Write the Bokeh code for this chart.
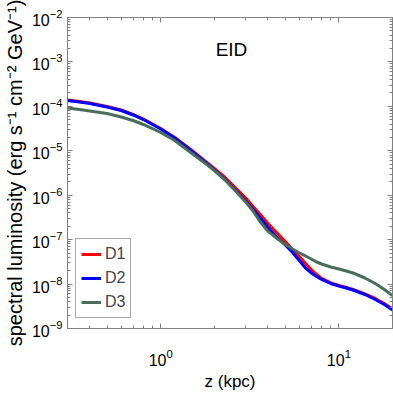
from bokeh.plotting import figure
from bokeh.models import (FixedTicker, LogTickFormatter, LogAxis, Label, Legend, LegendItem, Range1d)
from bokeh.embed import file_html
from bokeh.resources import INLINE

z_kpc = [0.3, 0.35, 0.4, 0.5, 0.6, 0.7, 0.8, 1.0, 1.2, 1.5, 1.8, 2.0, 2.3, 2.6, 3.0, 3.3, 3.6,
         4.0, 4.5, 5.0, 5.5, 6.0, 6.5, 7.0, 7.5, 8.0, 9.0, 10.0, 11.0, 12.0, 14.0, 16.0, 18.0, 20.0]
d1 = [1.39e-4, 1.29e-4, 1.19e-4, 9.93e-5, 8.28e-5, 6.56e-5, 5.19e-5, 3.18e-5, 1.99e-5, 1.02e-5,
      5.59e-6, 4.00e-6, 2.51e-6, 1.53e-6, 8.66e-7, 5.57e-7, 3.78e-7,
      2.31e-7, 1.41e-7, 9.09e-8, 6.00e-8, 4.18e-8, 2.91e-8, 2.13e-8, 1.64e-8, 1.34e-8, 1.06e-8,
      9.29e-9, 8.38e-9, 7.55e-9, 6.04e-9, 4.74e-9, 3.66e-9, 2.75e-9]
d2 = [1.36e-4, 1.25e-4, 1.16e-4, 9.67e-5, 8.07e-5, 6.39e-5, 5.06e-5, 3.09e-5, 1.94e-5, 9.64e-6,
      5.31e-6, 3.70e-6, 2.26e-6, 1.35e-6, 7.41e-7, 4.77e-7, 3.15e-7,
      1.88e-7, 1.12e-7, 7.58e-8, 5.14e-8, 3.39e-8, 2.30e-8, 1.78e-8, 1.48e-8, 1.27e-8, 1.03e-8,
      9.05e-9, 8.16e-9, 7.36e-9, 5.83e-9, 4.50e-9, 3.47e-9, 2.61e-9]
d3 = [9.19e-5, 8.50e-5, 7.86e-5, 6.91e-5, 5.76e-5, 4.81e-5, 3.91e-5, 2.58e-5, 1.70e-5, 8.69e-6,
      5.04e-6, 3.60e-6, 2.20e-6, 1.31e-6, 7.04e-7, 4.41e-7, 2.60e-7,
      1.55e-7, 1.06e-7, 7.78e-8, 6.16e-8, 5.01e-8, 4.29e-8, 3.67e-8, 3.14e-8, 2.83e-8, 2.42e-8,
      2.18e-8, 1.97e-8, 1.78e-8, 1.37e-8, 1.03e-8, 7.55e-9, 5.53e-9]

series_names = ["D1", "D2", "D3"]
series_colors = ["#ff0000", "#0000ff", "#466e5a"]

x_major = [1.0, 10.0]
x_minor = [0.3, 0.4, 0.5, 0.6, 0.7, 0.8, 0.9, 2, 3, 4, 5, 6, 7, 8, 9, 20]
y_exps = list(range(-9, -1))
y_major = [10.0 ** e for e in y_exps]
y_minor = [m * 10.0 ** e for e in y_exps[:-1] for m in range(2, 10)]

FONT = "Liberation Sans"
AX = "#808080"

p = figure(width=393, height=393, x_axis_type="log", y_axis_type="log",
           x_range=Range1d(0.3, 20), y_range=Range1d(1e-9, 1e-2),
           output_backend="svg", toolbar_location=None,
           min_border_left=62, min_border_right=1, min_border_top=17, min_border_bottom=65)
p.grid.visible = False
p.outline_line_color = AX
p.outline_line_width = 1
p.background_fill_color = "white"
p.border_fill_color = "white"

bottom_ax = p.below[0]
left_ax = p.left[0]


def style_axis(ax, maj, mn, labels=True):
    ax.ticker = FixedTicker(ticks=maj, minor_ticks=mn)
    ax.formatter = LogTickFormatter()
    ax.axis_line_color = AX
    ax.major_tick_line_color = AX
    ax.minor_tick_line_color = AX
    ax.major_tick_in = 5
    ax.major_tick_out = 0
    ax.minor_tick_in = 3
    ax.minor_tick_out = 0
    ax.major_label_text_font = FONT
    ax.major_label_text_font_size = "16px" if labels else "0px"
    ax.major_label_text_color = "black"
    ax.axis_label_text_font = FONT
    ax.axis_label_text_font_style = "normal"
    ax.axis_label_text_color = "black"
    if not labels:
        ax.major_label_standoff = 0
        ax.major_label_text_alpha = 0


style_axis(bottom_ax, x_major, x_minor)
style_axis(left_ax, y_major, y_minor)

top_ax = LogAxis()
style_axis(top_ax, x_major, x_minor, labels=False)
p.add_layout(top_ax, "above")
right_ax = LogAxis()
style_axis(right_ax, y_major, y_minor, labels=False)
p.add_layout(right_ax, "right")

bottom_ax.axis_label = "z (kpc)"
bottom_ax.axis_label_text_font_size = "17px"
bottom_ax.major_label_standoff = 20
bottom_ax.axis_label_standoff = 3
left_ax.axis_label = "spectral luminosity (erg s\u207b\u00b9 cm\u207b\u00b2 GeV\u207b\u00b9)"
left_ax.axis_label_text_font_size = "20px"
left_ax.major_label_standoff = 5
left_ax.axis_label_standoff = 3

renderers = []
for name, ys, col in zip(series_names, [d1, d2, d3], series_colors):
    r = p.line(z_kpc, ys, line_color=col, line_width=3, line_join="round")
    renderers.append((name, r))

legend = Legend(items=[LegendItem(label=n, renderers=[r]) for n, r in renderers],
                location=(8, 10), label_text_font=FONT, label_text_font_size="16px",
                glyph_width=20, glyph_height=20, label_height=20, spacing=4, padding=5,
                label_standoff=4, border_line_color="#555555", border_line_width=1,
                background_fill_alpha=1.0, margin=0)
p.add_layout(legend, "center")

p.add_layout(Label(x=164, y=279, x_units="screen", y_units="screen", text="EID",
                   text_font=FONT, text_font_size="19px", text_align="center",
                   text_baseline="middle", text_color="black"))

open("out.html", "w").write(file_html(p, INLINE))
